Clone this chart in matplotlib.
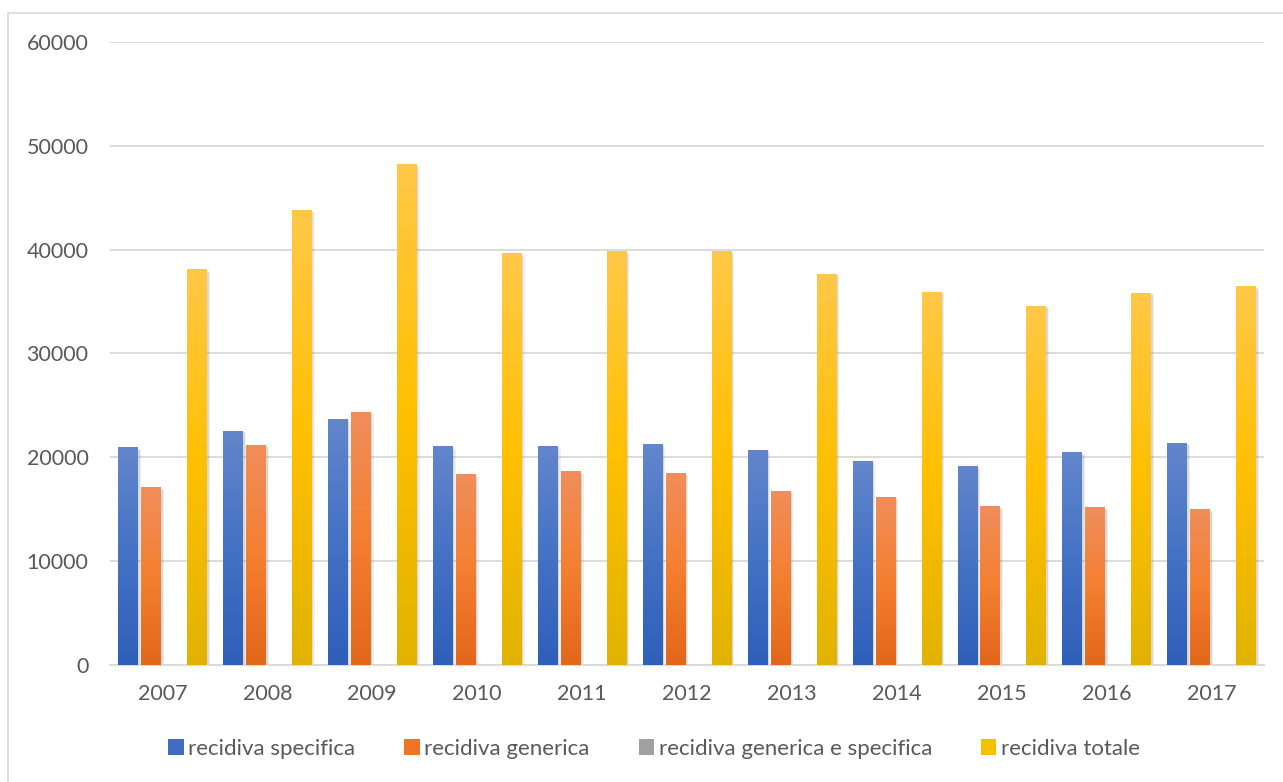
import numpy as np
import matplotlib
matplotlib.use("Agg")
import matplotlib.pyplot as plt
from matplotlib.colors import LinearSegmentedColormap
from matplotlib.patches import Rectangle, Patch

# =====================================================
# Data
# =====================================================

years = ["2007", "2008", "2009", "2010", "2011", "2012",
         "2013", "2014", "2015", "2016", "2017"]

recidiva_specifica = [21000, 22550, 23700, 21050, 21050, 21250,
                      20750, 19650, 19150, 20500, 21400]
recidiva_generica = [17100, 21200, 24400, 18350, 18650, 18450,
                     16800, 16200, 15300, 15200, 15000]
recidiva_gen_spec = [0, 0, 0, 0, 0, 0, 0, 0, 0, 0, 0]
recidiva_totale = [38100, 43850, 48250, 39650, 39850, 39850,
                   37700, 35950, 34600, 35850, 36500]

series_names = ["recidiva specifica", "recidiva generica",
                "recidiva generica e specifica", "recidiva totale"]

# =====================================================
# Style
# =====================================================

plt.rcParams["font.family"] = ["Lato", "DejaVu Sans"]
TEXT = "#595959"
GRID = "#d9d9d9"

gradients = [
    ["#2e5fb9", "#4472c4", "#6386cc"],   # blue
    ["#e2671b", "#f47f30", "#f08e5c"],   # orange
    ["#8c8c8c", "#a5a5a5", "#bdbdbd"],   # grey
    ["#e1b300", "#ffc000", "#ffc848"],   # yellow
]
legend_colors = ["#3f6dc3", "#ee7426", "#a0a0a0", "#f6bf00"]

# =====================================================
# Figure
# =====================================================

fig = plt.figure(figsize=(12.83, 7.82), dpi=100)

# chart border
fig.add_artist(Rectangle((8 / 1283, -0.01), 1.1, 1 - 13 / 782 + 0.01,
                         transform=fig.transFigure, fill=False,
                         edgecolor=GRID, linewidth=1.2))

ax = fig.add_axes([110 / 1283, (782 - 665) / 782,
                   (1264 - 110) / 1283, (665 - 42) / 782])

x = np.arange(len(years))
step = 0.219
width = 0.186
all_series = [recidiva_specifica, recidiva_generica,
              recidiva_gen_spec, recidiva_totale]

grad = np.linspace(0, 1, 256).reshape(-1, 1)

for i, values in enumerate(all_series):
    cmap = LinearSegmentedColormap.from_list("g%d" % i, gradients[i])
    offset = (i - 1.5) * step
    for xi, v in zip(x, values):
        if v <= 0:
            continue
        x0 = xi + offset - width / 2
        # soft shadow
        for dx, dy, a in [(0.03, -250, 0.12), (0.018, -150, 0.2)]:
            ax.add_patch(Rectangle((x0 + dx, dy), width, v, color="#7f7f7f",
                                   alpha=a, linewidth=0, zorder=2))
        bar = Rectangle((x0, 0), width, v, facecolor="none",
                        linewidth=0, zorder=3)
        ax.add_patch(bar)
        im = ax.imshow(grad, cmap=cmap, aspect="auto", origin="lower",
                       extent=[x0, x0 + width, 0, v], zorder=3,
                       interpolation="bilinear")
        im.set_clip_path(bar)

ax.set_xlim(-0.5, len(years) - 0.5)
ax.set_ylim(0, 60000)
ax.set_yticks(np.arange(0, 60001, 10000))
ax.set_yticklabels([str(t) for t in range(0, 60001, 10000)])
ax.set_xticks(x)
ax.set_xticklabels(years)

ax.grid(axis="y", color=GRID, linewidth=1.3, zorder=0)
ax.set_axisbelow(True)
for side in ["top", "right", "left"]:
    ax.spines[side].set_visible(False)
ax.spines["bottom"].set_color(GRID)
ax.spines["bottom"].set_linewidth(1.3)

ax.tick_params(axis="both", length=0, labelsize=15.5, colors=TEXT)
ax.tick_params(axis="y", pad=15.5)
ax.tick_params(axis="x", pad=14)

handles = [Patch(facecolor=c, edgecolor="none") for c in legend_colors]
fig.legend(handles, series_names, loc="center", ncol=4,
           bbox_to_anchor=(654 / 1283, 1 - 749 / 782), frameon=False,
           fontsize=16, labelcolor=TEXT, handlelength=0.7,
           handleheight=0.7, handletextpad=0.2, columnspacing=2.2)

fig.savefig("out.png", dpi=100, facecolor="white")
